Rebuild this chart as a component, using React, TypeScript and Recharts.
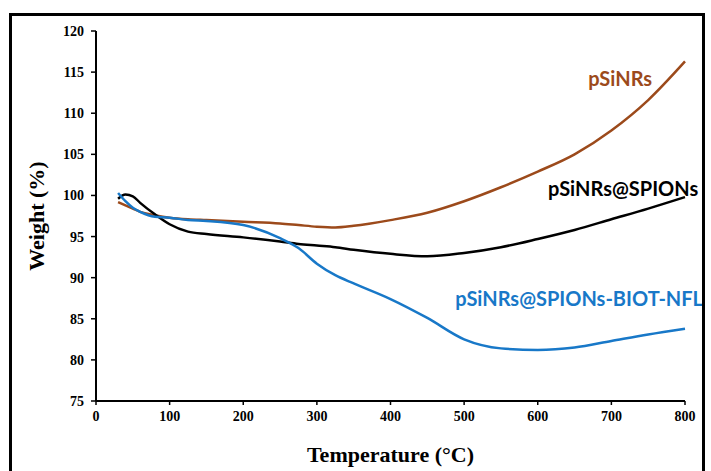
import { LineChart, Line, XAxis, YAxis, ReferenceDot } from 'recharts';

const TEMPERATURES = [30, 40, 50, 60, 80, 100, 125, 150, 200, 250, 275, 300, 325, 350, 400, 450, 500, 550, 600, 650, 700, 750, 800];

const PSINRS = [99.2, 98.8, 98.4, 98.0, 97.6, 97.3, 97.1, 97.0, 96.8, 96.6, 96.4, 96.2, 96.1, 96.3, 97.0, 97.9, 99.3, 101.0, 102.9, 105.0, 107.9, 111.6, 116.3];
const PSINRS_SPIONS = [99.6, 100.1, 99.9, 99.1, 97.7, 96.5, 95.6, 95.3, 94.9, 94.4, 94.1, 93.9, 93.7, 93.4, 92.9, 92.6, 93.0, 93.7, 94.7, 95.8, 97.1, 98.4, 99.8];
const PSINRS_BIOT = [100.3, 99.3, 98.5, 98.0, 97.4, 97.3, 97.0, 96.9, 96.4, 94.8, 93.6, 91.7, 90.3, 89.3, 87.4, 85.1, 82.5, 81.4, 81.2, 81.5, 82.3, 83.1, 83.8];

const X_TICKS = [0, 100, 200, 300, 400, 500, 600, 700, 800];
const Y_TICKS = [75, 80, 85, 90, 95, 100, 105, 110, 115, 120];

const SERIES = [
  { key: 'psinrs', name: 'pSiNRs', color: '#9c4a1b', label: { x: 712, y: 114.3, anchor: 'middle' } },
  { key: 'spions', name: 'pSiNRs@SPIONs', color: '#000000', label: { x: 716, y: 100.9, anchor: 'middle' } },
  { key: 'biot', name: 'pSiNRs@SPIONs-BIOT-NFL', color: '#1878c8', label: { x: 488, y: 87.5, anchor: 'start' } },
];

const data = TEMPERATURES.map((t, i) => ({
  t,
  psinrs: PSINRS[i],
  spions: PSINRS_SPIONS[i],
  biot: PSINRS_BIOT[i],
}));

const serif = '"Liberation Serif", "Times New Roman", serif';
const sans = 'Lato, "Open Sans", sans-serif';

export default function App() {
  return (
    <div style={{ position: 'absolute', left: 0, top: 0, width: 711, height: 471, overflow: 'hidden', background: '#fff' }}>
      <div style={{ position: 'absolute', left: 0, top: 0, width: 705, height: 471, overflow: 'hidden' }}>
        <LineChart width={711} height={471} data={data} margin={{ top: 31, right: 26, bottom: 0, left: 0 }}>
          <XAxis
            dataKey="t"
            type="number"
            domain={[0, 800]}
            ticks={X_TICKS}
            height={70}
            axisLine={{ stroke: '#000', strokeWidth: 2 }}
            tickLine={{ stroke: '#000', strokeWidth: 1.5 }}
            tickSize={4}
            tickMargin={6}
            tick={{ fill: '#000', fontSize: 14, fontWeight: 700, fontFamily: serif }}
            label={{ value: 'Temperature (°C)', position: 'insideBottom', offset: 9, fill: '#000', fontSize: 22, fontWeight: 700, fontFamily: serif }}
          />
          <YAxis
            type="number"
            domain={[75, 120]}
            ticks={Y_TICKS}
            width={96}
            axisLine={{ stroke: '#000', strokeWidth: 2 }}
            tickLine={{ stroke: '#000', strokeWidth: 1.5 }}
            tickSize={5}
            tickMargin={7}
            tick={{ fill: '#000', fontSize: 14, fontWeight: 700, fontFamily: serif }}
            label={{ value: 'Weight (%)', angle: -90, position: 'insideLeft', offset: 36, fill: '#000', fontSize: 22, fontWeight: 700, fontFamily: serif, style: { textAnchor: 'middle' } }}
          />
          {SERIES.map((s) => (
            <Line
              key={s.key}
              type="monotone"
              dataKey={s.key}
              stroke={s.color}
              strokeWidth={2.5}
              dot={false}
              isAnimationActive={false}
            />
          ))}
          {SERIES.map((s) => (
            <ReferenceDot
              key={`lbl-${s.key}`}
              x={s.label.x}
              y={s.label.y}
              r={0}
              ifOverflow="visible"
              shape={(p: any) => (
                <text
                  x={p.cx}
                  y={p.cy}
                  textAnchor={s.label.anchor}
                  dominantBaseline="central"
                  fill={s.color}
                  fontSize={20}
                  fontWeight={700}
                  fontFamily={sans}
                >
                  {s.name}
                </text>
              )}
            />
          ))}
        </LineChart>
      </div>
      <div
        style={{
          position: 'absolute',
          left: 9,
          top: 13,
          width: 696,
          height: 520,
          border: '3px solid #000',
          boxSizing: 'border-box',
          pointerEvents: 'none',
        }}
      />
    </div>
  );
}
